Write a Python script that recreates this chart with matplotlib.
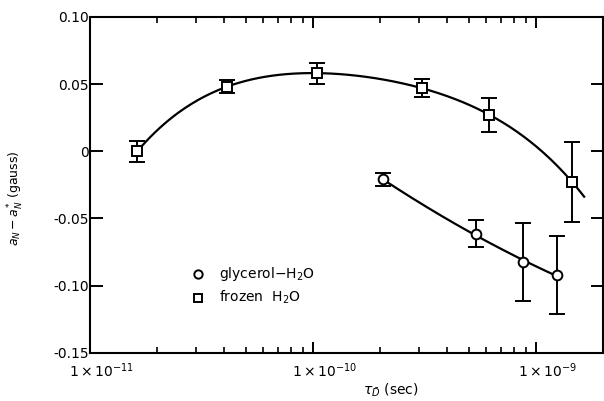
import numpy as np
import matplotlib.pyplot as plt
import matplotlib.transforms as mtransforms
from matplotlib.ticker import FixedLocator, LogLocator, NullFormatter

plt.rcParams['font.family'] = ['DejaVu Sans']
plt.rcParams['mathtext.fontset'] = 'dejavusans'

# correlation time (sec) and hyperfine shift a_N - a_N* (gauss)
frozen_tau = [1.63e-11, 4.1e-11, 1.04e-10, 3.1e-10, 6.2e-10, 1.46e-9]
frozen_shift = [0.0, 0.048, 0.058, 0.047, 0.027, -0.023]
frozen_err = [0.008, 0.005, 0.008, 0.0066, 0.0125, 0.030]

glycerol_tau = [2.06e-10, 5.37e-10, 8.77e-10, 1.24e-9]
glycerol_shift = [-0.021, -0.0615, -0.0825, -0.092]
glycerol_err = [0.0045, 0.010, 0.029, 0.029]

y_ticks = [0.10, 0.05, 0.0, -0.05, -0.10, -0.15]
y_labels = ['0.10', '0.05', '0', '-0.05', '-0.10', '-0.15']
x_ticks = [1e-11, 1e-10, 1e-9]
x_labels = [r'$1\times10^{-11}$', r'$1\times10^{-10}$', r'$1\times10^{-9}$']

fig = plt.figure(figsize=(6.04, 4.01), dpi=100)
ax = fig.add_axes([0.149, 0.120, 0.849, 0.838])


def smooth(tau, val, deg, lo, hi):
    # least squares polynomial in log(tau), drawn over [lo, hi]
    c = np.polyfit(np.log10(tau), val, deg)
    xs = np.linspace(np.log10(lo), np.log10(hi), 200)
    return 10 ** xs, np.polyval(c, xs)


fx, fy = smooth(frozen_tau, frozen_shift, 4, frozen_tau[0], 1.65e-9)
gx, gy = smooth(glycerol_tau, glycerol_shift, 2, glycerol_tau[0], glycerol_tau[-1])
ax.plot(fx, fy, color='black', lw=1.6, zorder=2)
ax.plot(gx, gy, color='black', lw=1.6, zorder=2)

ax.errorbar(frozen_tau, frozen_shift, yerr=frozen_err, fmt='s', ms=6.5,
            mfc='white', mec='black', mew=1.4, ecolor='black', elinewidth=1.4,
            capsize=6, capthick=1.4, zorder=3)
ax.errorbar(glycerol_tau, glycerol_shift, yerr=glycerol_err, fmt='o', ms=7,
            mfc='white', mec='black', mew=1.4, ecolor='black', elinewidth=1.4,
            capsize=6, capthick=1.4, zorder=3)

ax.set_xscale('log')
ax.set_xlim(1e-11, 2.0e-9)
ax.set_ylim(-0.15, 0.10)

ax.xaxis.set_major_locator(FixedLocator(x_ticks))
ax.set_xticklabels(x_labels, fontsize=10)
ax.xaxis.set_minor_locator(LogLocator(base=10, subs=np.arange(2, 10)))
ax.xaxis.set_minor_formatter(NullFormatter())
ax.set_yticks(y_ticks)
ax.set_yticklabels(y_labels, fontsize=10)

ax.tick_params(axis='x', which='major', direction='in', length=8, width=1.4,
               top=True, pad=6)
ax.tick_params(axis='x', which='minor', direction='in', length=4.5, width=1.2,
               top=True)
ax.tick_params(axis='y', which='major', direction='in', length=9, width=1.4,
               right=True, pad=1)
for s in ax.spines.values():
    s.set_linewidth(1.5)

# decade labels sit a little to the right of their ticks
shift = mtransforms.ScaledTranslation(12 / 100, 0, fig.dpi_scale_trans)
for lab in ax.get_xticklabels():
    lab.set_transform(lab.get_transform() + shift)

ax.set_xlabel(r'$\tau_{\bar{D}}$ (sec)', fontsize=10)
ax.xaxis.set_label_coords(0.587, -0.085)
ax.set_ylabel(r'$a_N - a_N^{*}$ (gauss)', fontsize=9)
ax.yaxis.set_label_coords(-0.125, 0.46)

# key in the lower left of the plot area
ax.plot([3.05e-11], [-0.0912], 'o', ms=6, mfc='white', mec='black', mew=1.4)
ax.plot([3.05e-11], [-0.1088], 's', ms=6, mfc='white', mec='black', mew=1.4)
ax.text(3.8e-11, -0.0912, r'glycerol$-$H$_2$O', fontsize=10, va='center')
ax.text(3.8e-11, -0.1088, r'frozen  H$_2$O', fontsize=10, va='center')

fig.savefig('out.png', dpi=100)
